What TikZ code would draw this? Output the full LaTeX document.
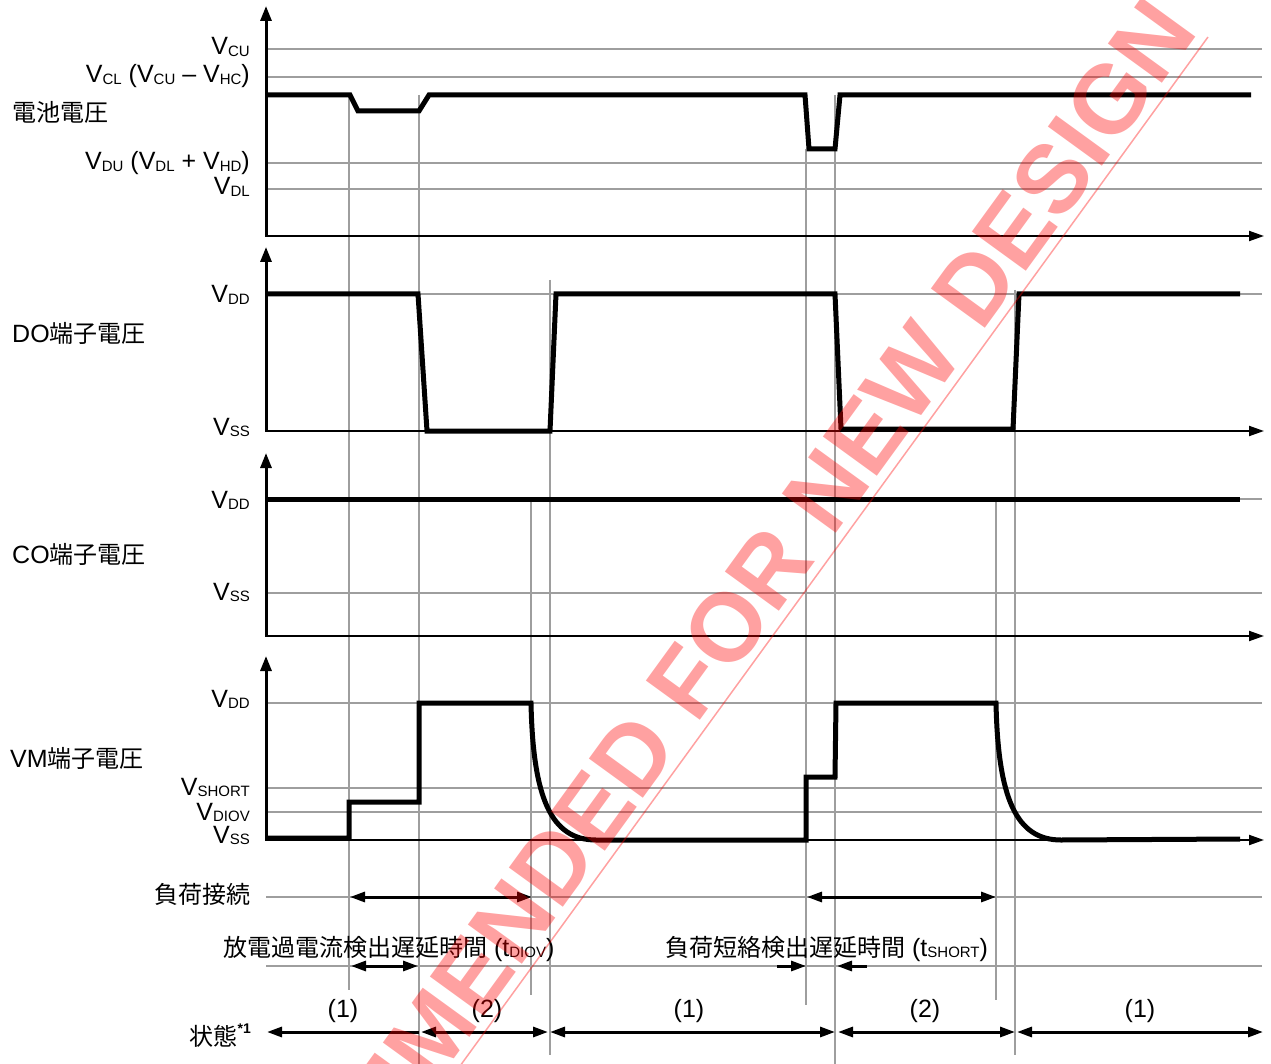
\documentclass[tikz,border=0pt]{standalone}
\usepackage{fontspec}
\setmainfont{Liberation Sans}
\newfontfamily\cjk{Noto Sans CJK JP}
\usetikzlibrary{arrows.meta}
\newcommand\lsub[1]{\raisebox{-1.5pt}{\fontsize{15}{15}\selectfont #1}}
\tikzset{
  vlab/.style={font=\fontsize{25}{30}\selectfont, inner sep=0pt, anchor=base east},
  jlab/.style={font=\fontsize{24}{28}\selectfont, inner sep=0pt},
  gline/.style={black!38, line width=1.3pt},
  sig/.style={line width=5pt},
  xax/.style={line width=2pt, -{Triangle[length=15pt,width=10pt]}},
  yax/.style={line width=3pt, -{Triangle[length=15pt,width=11pt]}},
  dimarr/.style={line width=3pt, {Triangle[length=15pt,width=10pt]}-{Triangle[length=15pt,width=10pt]}},
  onearr/.style={line width=3pt, -{Triangle[length=15pt,width=10pt]}},
  wm/.style={font=\fontsize{97}{97}\selectfont\bfseries, text=red, text opacity=0.37, inner sep=0pt},
}
\begin{document}
\begin{tikzpicture}[x=1pt,y=-1pt]
\useasboundingbox (0,0) rectangle (1271,1064);
\fill[white] (0,0) rectangle (1271,1064);
\clip (0,0) rectangle (1271,1064);
% horizontal grid lines
\foreach \yy in {49,77,163,189,294,499,593,703,788,812,897,966}
  \draw[gline] (266,\yy) -- (1262,\yy);
% vertical grid lines
\draw[gline] (349,95) -- (349,990);
\draw[gline] (419,95) -- (419,1064);
\draw[gline] (531,499) -- (531,995);
\draw[gline] (550,280) -- (550,1055);
\draw[gline] (806,149) -- (806,1005);
\draw[gline] (835,95) -- (835,1064);
\draw[gline] (996,499) -- (996,1000);
\draw[gline] (1015,290) -- (1015,1055);
% axes
\coordinate (o1) at (266,236); \coordinate (t1) at (266,6); \coordinate (r1) at (1264,236);
\coordinate (o2) at (266,431); \coordinate (t2) at (266,247); \coordinate (r2) at (1264,431);
\coordinate (o3) at (266,636); \coordinate (t3) at (266,453); \coordinate (r3) at (1264,636);
\coordinate (o4) at (266,840); \coordinate (t4) at (266,656); \coordinate (r4) at (1264,840);
\foreach \i in {1,2,3,4} {
  \draw[yax] (o\i) -- (t\i);
  \draw[xax] ([xshift=-1pt]o\i) -- (r\i);
}
% signals
\draw[sig] (266,95) -- (350,95) -- (358,111) -- (419,111) -- (429,95) -- (805,95)
  -- (809,149) -- (835,149) -- (840,95) -- (1251,95);
\draw[sig] (266,294) -- (418,294) -- (427,431) -- (550,431) -- (556,294) -- (835,294)
  -- (841,429) -- (1013,429) -- (1019,294) -- (1240,294);
\draw[sig] (266,499) -- (1240,499);
\draw[sig] (266,838) -- (349,838) -- (349,802) -- (419,802) -- (419,703) -- (531,703)
  .. controls (533,798) and (551,840) .. (596,840) -- (806,840) -- (806,777) -- (835,777)
  -- (836,703) -- (996,703) .. controls (998,798) and (1016,840) .. (1061,840) -- (1240,839);
% arrows
\coordinate (la1) at (350,897); \coordinate (lb1) at (532,897);
\coordinate (la2) at (807,897); \coordinate (lb2) at (996,897);
\draw[dimarr] (la1) -- (lb1);
\draw[dimarr] (la2) -- (lb2);
\coordinate (da) at (351,966); \coordinate (db) at (418,966);
\draw[dimarr] (da) -- (db);
\coordinate (sa) at (777,966); \coordinate (sb) at (806,966);
\coordinate (sc) at (867,966); \coordinate (sd) at (837,966);
\draw[onearr] (sa) -- (sb);
\draw[onearr] (sc) -- (sd);
\coordinate (q0) at (267,1032); \coordinate (q1) at (419,1032);
\coordinate (q2) at (421,1032); \coordinate (q3) at (548,1032);
\coordinate (q4) at (550,1032); \coordinate (q5) at (835,1032);
\coordinate (q6) at (838,1032); \coordinate (q7) at (1015,1032);
\coordinate (q8) at (1017,1032); \coordinate (q9) at (1263,1032);
\draw[onearr, {Triangle[length=15pt,width=10pt]}-] (q0) -- (q1);
\draw[dimarr] (q2) -- (q3);
\draw[dimarr] (q4) -- (q5);
\draw[dimarr] (q6) -- (q7);
\draw[dimarr] (q8) -- (q9);
% value labels
\node[vlab] (vcu) at (250,55) {V\lsub{CU}};
\node[vlab] (vcl) at (250,83) {V\lsub{CL} (V\lsub{CU} – V\lsub{HC})};
\node[vlab] (vdu) at (250,170) {V\lsub{DU} (V\lsub{DL} + V\lsub{HD})};
\node[vlab] (vdl) at (250,195) {V\lsub{DL}};
\node[vlab] (dovdd) at (250,303) {V\lsub{DD}};
\node[vlab] (dovss) at (250,435) {V\lsub{SS}};
\node[vlab] (covdd) at (250,508) {V\lsub{DD}};
\node[vlab] (covss) at (250,600) {V\lsub{SS}};
\node[vlab] (vmvdd) at (250,707) {V\lsub{DD}};
\node[vlab] (vshort) at (250,795) {V\lsub{SHORT}};
\node[vlab] (vdiov) at (250,820) {V\lsub{DIOV}};
\node[vlab] (vmvss) at (250,843) {V\lsub{SS}};
% row labels
\node[jlab, anchor=base west] (bat) at (12,122) {{\cjk 電池電圧}};
\node[jlab, anchor=base west, font=\fontsize{25}{28}\selectfont] (do) at (12,343) {DO{\fontsize{24}{28}\selectfont\cjk 端子電圧}};
\node[jlab, anchor=base west, font=\fontsize{25}{28}\selectfont] (co) at (12,563) {CO{\fontsize{24}{28}\selectfont\cjk 端子電圧}};
\node[jlab, anchor=base west, font=\fontsize{25}{28}\selectfont] (vm) at (10,767) {VM{\fontsize{24}{28}\selectfont\cjk 端子電圧}};
\node[jlab, anchor=base east] (load) at (251,903) {{\cjk 負荷接続}};
\node[jlab, anchor=base west] (tdiov) at (223,956) {{\cjk 放電過電流検出遅延時間}{\fontsize{25}{28}\selectfont{} (t\lsub{DIOV})}};
\node[jlab, anchor=base west] (tshort) at (665,956) {{\cjk 負荷短絡検出遅延時間}{\fontsize{25}{28}\selectfont{} (t\lsub{SHORT})}};
\node[jlab, anchor=base east] (state) at (251,1045) {{\cjk 状態}\raisebox{12pt}{\fontsize{14}{14}\selectfont\bfseries *1}};
% state labels
\node[vlab, anchor=base] (st1) at (343,1017) {(1)};
\node[vlab, anchor=base] (st2) at (487,1017) {(2)};
\node[vlab, anchor=base] (st3) at (689,1017) {(1)};
\node[vlab, anchor=base] (st4) at (925,1017) {(2)};
\node[vlab, anchor=base] (st5) at (1140,1017) {(1)};
% watermark
\node[wm, rotate=54, anchor=base east] (wmark) at (1200,32) {NOT RECOMMENDED FOR NEW DESIGN};
\coordinate (wl1) at (1208,37); \coordinate (wl2) at (452,1077);
\draw[red, opacity=0.37, line width=1.5pt] (wl1) -- (wl2);
\end{tikzpicture}
\end{document}
